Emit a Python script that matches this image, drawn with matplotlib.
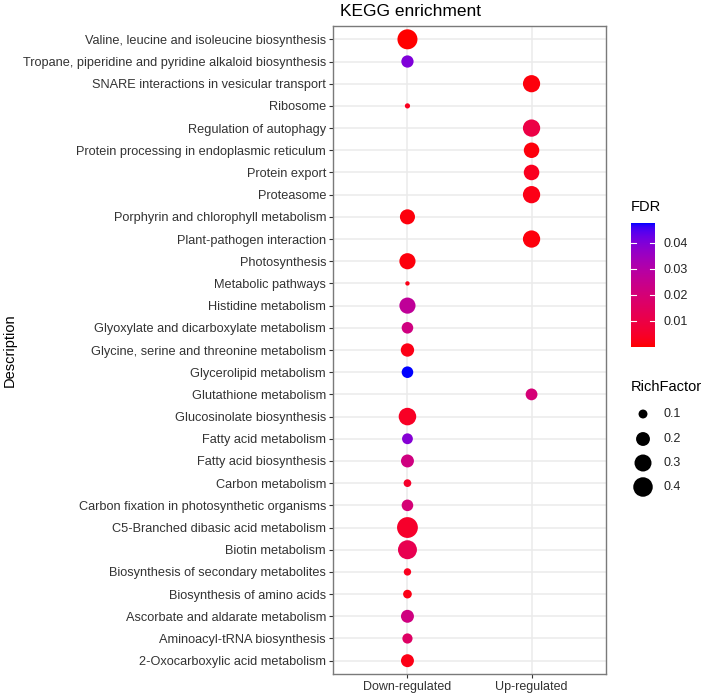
import matplotlib
matplotlib.use("Agg")
import matplotlib.pyplot as plt
import numpy as np
from matplotlib.colors import ListedColormap, Normalize

plt.rcParams["font.family"] = ["Liberation Sans", "DejaVu Sans"]

# pathways, bottom to top as drawn
pathways = [
    "2-Oxocarboxylic acid metabolism",
    "Aminoacyl-tRNA biosynthesis",
    "Ascorbate and aldarate metabolism",
    "Biosynthesis of amino acids",
    "Biosynthesis of secondary metabolites",
    "Biotin metabolism",
    "C5-Branched dibasic acid metabolism",
    "Carbon fixation in photosynthetic organisms",
    "Carbon metabolism",
    "Fatty acid biosynthesis",
    "Fatty acid metabolism",
    "Glucosinolate biosynthesis",
    "Glutathione metabolism",
    "Glycerolipid metabolism",
    "Glycine, serine and threonine metabolism",
    "Glyoxylate and dicarboxylate metabolism",
    "Histidine metabolism",
    "Metabolic pathways",
    "Photosynthesis",
    "Plant-pathogen interaction",
    "Porphyrin and chlorophyll metabolism",
    "Proteasome",
    "Protein export",
    "Protein processing in endoplasmic reticulum",
    "Regulation of autophagy",
    "Ribosome",
    "SNARE interactions in vesicular transport",
    "Tropane, piperidine and pyridine alkaloid biosynthesis",
    "Valine, leucine and isoleucine biosynthesis",
]
groups = ["Down-regulated", "Up-regulated"]

# one point per pathway
point_pathway = pathways
point_group = [
    "Down-regulated", "Down-regulated", "Down-regulated", "Down-regulated",
    "Down-regulated", "Down-regulated", "Down-regulated", "Down-regulated",
    "Down-regulated", "Down-regulated", "Down-regulated", "Down-regulated",
    "Up-regulated", "Down-regulated", "Down-regulated", "Down-regulated",
    "Down-regulated", "Down-regulated", "Down-regulated", "Up-regulated",
    "Down-regulated", "Up-regulated", "Up-regulated", "Up-regulated",
    "Up-regulated", "Down-regulated", "Up-regulated", "Down-regulated",
    "Down-regulated",
]
rich_factor = [
    0.176, 0.119, 0.176, 0.097, 0.083, 0.377, 0.46, 0.145, 0.086, 0.176,
    0.13, 0.32, 0.15, 0.145, 0.186, 0.145, 0.27, 0.07, 0.27, 0.31,
    0.235, 0.31, 0.25, 0.248, 0.31, 0.071, 0.307, 0.16, 0.423,
]
fdr = [
    0.002, 0.016, 0.022, 0.002, 0.003, 0.012, 0.005, 0.02, 0.005, 0.022,
    0.039, 0.004, 0.02, 0.0475, 0.002, 0.022, 0.027, 0.002, 0.001, 0.001,
    0.001, 0.002, 0.003, 0.001, 0.01, 0.003, 0.001, 0.04, 0.00001,
]
size_breaks = [0.1, 0.2, 0.3, 0.4]
fdr_breaks = [0.01, 0.02, 0.03, 0.04]


# red -> blue gradient interpolated in Lab space (like ggplot)
def srgb_to_lab(c):
    c = np.asarray(c, float)
    lin = np.where(c <= 0.04045, c / 12.92, ((c + 0.055) / 1.055) ** 2.4)
    m = np.array([[0.4124, 0.3576, 0.1805],
                  [0.2126, 0.7152, 0.0722],
                  [0.0193, 0.1192, 0.9505]])
    xyz = m @ lin / np.array([0.95047, 1.0, 1.08883])
    f = np.where(xyz > 0.008856, np.cbrt(xyz), 7.787 * xyz + 16 / 116)
    return np.array([116 * f[1] - 16, 500 * (f[0] - f[1]), 200 * (f[1] - f[2])])


def lab_to_srgb(lab):
    L, a, b = lab
    fy = (L + 16) / 116
    fx = fy + a / 500
    fz = fy - b / 200
    f = np.array([fx, fy, fz])
    xyz = np.where(f ** 3 > 0.008856, f ** 3, (f - 16 / 116) / 7.787)
    xyz = xyz * np.array([0.95047, 1.0, 1.08883])
    minv = np.array([[3.2406, -1.5372, -0.4986],
                     [-0.9689, 1.8758, 0.0415],
                     [0.0557, -0.2040, 1.0570]])
    lin = minv @ xyz
    c = np.where(lin <= 0.0031308, 12.92 * lin, 1.055 * np.abs(lin) ** (1 / 2.4) - 0.055)
    return np.clip(c, 0, 1)


lab_lo = srgb_to_lab([1, 0, 0])
lab_hi = srgb_to_lab([0, 0, 1])
cmap = ListedColormap([lab_to_srgb(lab_lo + (lab_hi - lab_lo) * t)
                       for t in np.linspace(0, 1, 256)])
norm = Normalize(vmin=min(fdr), vmax=max(fdr))

rmin, rmax = min(rich_factor), max(rich_factor)


def marker_area(v):
    size = 1 + 5 * np.sqrt((np.asarray(v) - rmin) / (rmax - rmin))
    d_px = (3.13 * size + 1.04) * 1.05
    return (d_px * 0.72) ** 2


fig = plt.figure(figsize=(7.08, 6.96), dpi=100)
W, H = 708, 696
ax = fig.add_axes([333 / W, 1 - 674 / H, (606 - 333) / W, (674 - 26) / H])

xs = [groups.index(g) for g in point_group]
ys = [pathways.index(p) for p in point_pathway]
ax.scatter(xs, ys, s=marker_area(rich_factor), c=fdr, cmap=cmap, norm=norm,
           linewidths=0, zorder=3)

ax.set_xlim(-0.6, 1.6)
ax.set_ylim(-0.6, len(pathways) - 0.4)
ax.set_xticks(range(len(groups)))
ax.set_xticklabels(groups, fontsize=9, color="#333333")
ax.set_yticks(range(len(pathways)))
ax.set_yticklabels(pathways, fontsize=9.2, color="#333333")
ax.tick_params(length=3, width=0.8, color="#333333", pad=2)
ax.grid(True, color="#EBEBEB", linewidth=1.1, zorder=0)
ax.set_axisbelow(True)
for sp in ax.spines.values():
    sp.set_color("#7a7a7a")
    sp.set_linewidth(1.0)
ax.set_ylabel("Description", fontsize=10.5)
ax.yaxis.set_label_coords((17 - 333) / 273, 0.5)

fig.text(340 / W, 1 - 11 / H, "KEGG enrichment", fontsize=12.5, va="center", ha="left")

# FDR colorbar
cax = fig.add_axes([631 / W, 1 - 347 / H, 24 / W, (347 - 223) / H])
grad = np.linspace(norm.vmin, norm.vmax, 200).reshape(-1, 1)
cax.imshow(grad, cmap=cmap, norm=norm, aspect="auto", origin="lower",
           extent=[0, 1, norm.vmin, norm.vmax])
cax.set_xlim(0, 1)
cax.set_ylim(norm.vmin, norm.vmax)
cax.set_xticks([])
cax.set_yticks(fdr_breaks)
cax.set_yticklabels([f"{b:.2f}" for b in fdr_breaks], fontsize=9, color="#222222")
cax.yaxis.tick_right()
cax.tick_params(axis="y", length=0, pad=6)
for b in fdr_breaks:
    cax.plot([0, 0.2], [b, b], color="white", lw=0.8)
    cax.plot([0.8, 1], [b, b], color="white", lw=0.8)
for sp in cax.spines.values():
    sp.set_visible(False)
fig.text(631 / W, 1 - 207 / H, "FDR", fontsize=10.5, va="center", ha="left")

# RichFactor size legend
lax = fig.add_axes([625 / W, 1 - 500 / H, 80 / W, 100 / H])
lax.set_xlim(625, 705)
lax.set_ylim(500, 400)
lax.axis("off")
key_y = [414, 439, 463, 487]
lax.scatter([643] * len(size_breaks), key_y, s=marker_area(size_breaks),
            color="black", linewidths=0)
for y, b in zip(key_y, size_breaks):
    lax.text(663, y, f"{b:.1f}", fontsize=9, va="center", ha="left", color="#222222")
fig.text(631 / W, 1 - 387 / H, "RichFactor", fontsize=10.5, va="center", ha="left")

fig.savefig("out.png", dpi=100)
